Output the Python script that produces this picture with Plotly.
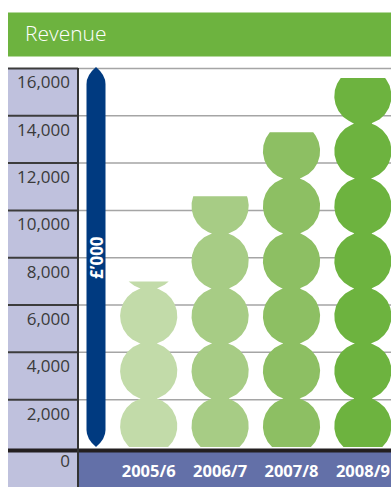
import numpy as np
import plotly.graph_objects as go

# Revenue by financial year, £'000
years = ["2005/6", "2006/7", "2007/8", "2008/9"]
revenue = [7000, 10600, 13300, 15600]
bar_colors = ["#c2dba9", "#a7cc85", "#8dbf63", "#6db33f"]

y_ticks = [0, 2000, 4000, 6000, 8000, 10000, 12000, 14000, 16000]
y_tick_text = ["0", "2,000", "4,000", "6,000", "8,000", "10,000", "12,000", "14,000", "16,000"]

# ---- page geometry (pixels) ----
W, H = 391, 487
ZERO_PX, TOP_PX = 447.0, 68.5          # pixel rows of 0 and of the top tick
PLOT_LEFT_PX = 78.0
FIRST_CENTER_PX, PITCH_PX = 148.7, 71.4
PPU = (ZERO_PX - TOP_PX) / y_ticks[-1]  # pixels per £'000

y_range = [-(H - ZERO_PX) / PPU, ZERO_PX / PPU]
x_range = [(PLOT_LEFT_PX - FIRST_CENTER_PX) / PITCH_PX, (W - FIRST_CENTER_PX) / PITCH_PX]


def px_x(p):
    return p / W


def px_y(p):
    return 1 - p / H


# each column is a stack of discs hung from the top tick, cut off at its value
DISC_R_PX = 28.6
DISC_STEP_PX = 55.0
rx = DISC_R_PX / PITCH_PX
ry = DISC_R_PX / PPU
step = DISC_STEP_PX / PPU
centres = []
c = y_ticks[-1] - step / 2
while c + ry > 0:
    centres.append(c)
    c -= step
centres = np.array(centres)


def disc_column(i, value, n=500):
    ys = np.linspace(0, value, n)
    d = np.clip(ry ** 2 - (ys[:, None] - centres[None, :]) ** 2, 0, None)
    w = np.sqrt(d).max(axis=1) * rx / ry
    xs = np.concatenate([i + w, (i - w)[::-1]])
    yy = np.concatenate([ys, ys[::-1]])
    return xs, yy


fig = go.Figure()
for i, (yr, val, col) in enumerate(zip(years, revenue, bar_colors)):
    xs, yy = disc_column(i, val)
    fig.add_trace(go.Scatter(
        x=xs, y=yy, mode="lines", fill="toself", fillcolor=col,
        line=dict(width=0, color=col), name=yr, hoverinfo="skip",
    ))

shapes = [
    # title band
    dict(type="rect", xref="paper", yref="paper", x0=px_x(8), x1=1.01,
         y0=px_y(56.5), y1=px_y(12.5), fillcolor="#6db33f", line=dict(width=0), layer="below"),
    # value-label column
    dict(type="rect", xref="paper", yref="paper", x0=px_x(8), x1=px_x(PLOT_LEFT_PX),
         y0=0, y1=px_y(TOP_PX), fillcolor="#bfc1dd", line=dict(width=0), layer="below"),
    # category band
    dict(type="rect", xref="paper", yref="paper", x0=px_x(PLOT_LEFT_PX), x1=1.01,
         y0=0, y1=px_y(452), fillcolor="#6370a8", line=dict(width=0), layer="below"),
]
for v in y_ticks[1:]:
    shapes.append(dict(type="line", xref="paper", yref="y", x0=px_x(8), x1=px_x(PLOT_LEFT_PX),
                       y0=v, y1=v, line=dict(color="#3c3c3c", width=2), layer="below"))
    shapes.append(dict(type="line", xref="paper", yref="y", x0=px_x(PLOT_LEFT_PX), x1=1.01,
                       y0=v, y1=v, line=dict(color="#a5a5a5", width=1.5), layer="below"))
shapes += [
    # baseline bar
    dict(type="rect", xref="paper", yref="paper", x0=px_x(8), x1=1.01,
         y0=px_y(452.5), y1=px_y(448.5), fillcolor="#231f20", line=dict(width=0), layer="above"),
    # column separator
    dict(type="line", xref="paper", yref="paper", x0=px_x(PLOT_LEFT_PX), x1=px_x(PLOT_LEFT_PX),
         y0=0, y1=px_y(TOP_PX - 0.5), line=dict(color="#333333", width=2), layer="above"),
]

# unit pointer: a tall band with pointed (arched) ends
ax, al, ar, at, ab = 96.0, 86.5, 105.5, 67.0, 447.0
TIP = 17.0
pts = (f"M {px_x(ax)},{px_y(at)} "
       f"Q {px_x(ar)},{px_y(at + 8)} {px_x(ar)},{px_y(at + TIP)} "
       f"L {px_x(ar)},{px_y(ab - TIP)} "
       f"Q {px_x(ar)},{px_y(ab - 8)} {px_x(ax)},{px_y(ab)} "
       f"Q {px_x(al)},{px_y(ab - 8)} {px_x(al)},{px_y(ab - TIP)} "
       f"L {px_x(al)},{px_y(at + TIP)} "
       f"Q {px_x(al)},{px_y(at + 8)} {px_x(ax)},{px_y(at)} Z")
shapes.append(dict(type="path", xref="paper", yref="paper", path=pts,
                   fillcolor="#003a80", line=dict(width=0), layer="above"))

annotations = [
    dict(text="Revenue", xref="paper", yref="paper", x=px_x(23), y=px_y(33),
         xanchor="left", yanchor="middle", showarrow=False,
         font=dict(family="Open Sans", size=21, color="white", weight=300)),
    dict(text="£’000", xref="paper", yref="paper", x=px_x(ax), y=px_y(258),
         xanchor="center", yanchor="middle", showarrow=False, textangle=-90,
         font=dict(family="Open Sans", size=17, color="white", weight="bold")),
]

fig.update_layout(
    width=W, height=H,
    margin=dict(l=0, r=0, t=0, b=0),
    paper_bgcolor="white", plot_bgcolor="white",
    showlegend=False,
    shapes=shapes,
    annotations=annotations,
    xaxis=dict(
        domain=[px_x(PLOT_LEFT_PX), 1], range=x_range, fixedrange=True,
        tickmode="array", tickvals=list(range(len(years))), ticktext=years,
        showgrid=False, zeroline=False, showline=False, ticks="",
        anchor="free", position=(0 - y_range[0]) / (y_range[1] - y_range[0]),
        ticklabelstandoff=12,
        tickfont=dict(family="Open Sans", size=16.5, color="white", weight="bold"),
    ),
    yaxis=dict(
        domain=[0, 1], range=y_range, fixedrange=True,
        tickmode="array", tickvals=y_ticks, ticktext=y_tick_text,
        showgrid=False, zeroline=False, showline=False, ticks="",
        ticklabelstandoff=7, ticklabelshift=14,
        tickfont=dict(family="Open Sans", size=17, color="#3a3a3a"),
    ),
)

fig.write_html("out.html")
